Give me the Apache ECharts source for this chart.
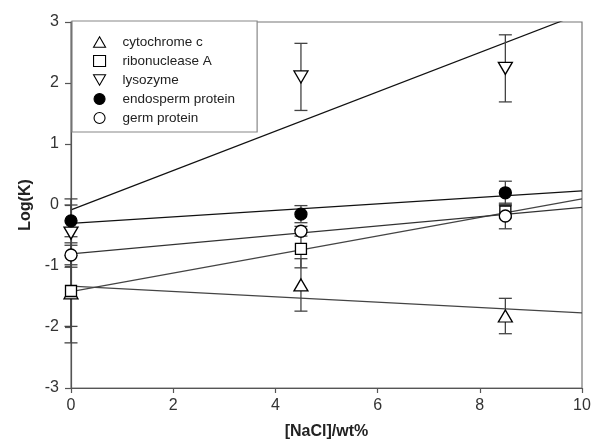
<!DOCTYPE html>
<html>
<head>
<meta charset="utf-8">
<script src="https://cdn.jsdelivr.net/npm/echarts@6/dist/echarts.min.js"></script>
<style>html,body{margin:0;padding:0;background:#fff}#c{width:594px;height:448px}</style>
</head>
<body>
<div id="c"></div>
<script>
const xValues = [0, 4.5, 8.5];
const seriesNames = ['cytochrome c', 'ribonuclease A', 'lysozyme', 'endosperm protein', 'germ protein'];
const cytochromeY = [-1.44, -1.31, -1.82];
const cytochromeErr = [0.82, 0.43, 0.29];
const ribonucleaseY = [-1.41, -0.72, -0.11];
const ribonucleaseErr = [0.58, 0.31, 0.10];
const lysozymeY = [-0.46, 2.10, 2.24];
const lysozymeErr = [0.56, 0.55, 0.55];
const endospermY = [-0.26, -0.15, 0.20];
const endospermErr = [0.26, 0.14, 0.19];
const germY = [-0.82, -0.43, -0.18];
const germErr = [0.16, 0.08, 0.21];
const fitX = [0, 10];
const cytochromeFit = [-1.33, -1.77];
const ribonucleaseFit = [-1.42, 0.10];
const lysozymeFit = [-0.08, 3.145];
const endospermFit = [-0.30, 0.23];
const germFit = [-0.80, -0.04];
const xTicks = [0, 2, 4, 6, 8, 10];
const yTicks = [-3, -2, -1, 0, 1, 2, 3];

const ys = [cytochromeY, ribonucleaseY, lysozymeY, endospermY, germY];
const errs = [cytochromeErr, ribonucleaseErr, lysozymeErr, endospermErr, germErr];
const fits = [cytochromeFit, ribonucleaseFit, lysozymeFit, endospermFit, germFit];
const symbols = [
  'path://M5,0 L10,8.66 L0,8.66 Z',
  'rect',
  'path://M0,0 L10,0 L5,8.66 Z',
  'circle',
  'circle'
];
const sizes = [[14, 12], 11, [14, 12], 12, 12];
const fills = ['#fff', '#fff', '#fff', '#000', '#fff'];
const fitColors = ['#444', '#444', '#111', '#111', '#333'];

const chart = echarts.init(document.getElementById('c'), null, {renderer: 'canvas'});
const series = [];
fits.forEach((f, i) => {
  series.push({
    type: 'line', name: 'fit' + i, data: fitX.map((x, k) => [x, f[k]]),
    showSymbol: false, symbol: 'none', clip: true, silent: true,
    lineStyle: {color: fitColors[i], width: 1.2}, z: 2
  });
});
errs.forEach((e, i) => {
  series.push({
    type: 'custom', name: 'err' + i, clip: false, silent: true, z: 3,
    data: xValues.map((x, k) => [x, ys[i][k] - e[k], ys[i][k] + e[k]]),
    renderItem: function (params, api) {
      const lo = api.coord([api.value(0), api.value(1)]);
      const hi = api.coord([api.value(0), api.value(2)]);
      const hw = 6.5;
      const st = {stroke: '#444', lineWidth: 1.3};
      return {type: 'group', children: [
        {type: 'line', shape: {x1: lo[0], y1: lo[1], x2: hi[0], y2: hi[1]}, style: st},
        {type: 'line', shape: {x1: lo[0] - hw, y1: lo[1], x2: lo[0] + hw, y2: lo[1]}, style: st},
        {type: 'line', shape: {x1: hi[0] - hw, y1: hi[1], x2: hi[0] + hw, y2: hi[1]}, style: st}
      ]};
    }
  });
});
seriesNames.forEach((n, i) => {
  series.push({
    type: 'scatter', name: n, clip: false, z: 5,
    data: xValues.map((x, k) => [x, ys[i][k]]),
    symbol: symbols[i], symbolSize: sizes[i],
    itemStyle: {color: fills[i], borderColor: '#000', borderWidth: 1.3, opacity: 1}
  });
});

chart.setOption({
  animation: false,
  backgroundColor: '#fff',
  grid: {left: 71, right: 12, top: 22, bottom: 60, show: true, borderColor: '#777', borderWidth: 1.2, backgroundColor: 'transparent'},
  legend: {
    data: seriesNames.map((n, i) => ({name: n, icon: symbols[i]})),
    orient: 'vertical', left: 72, top: 21,
    padding: [14, 22, 7, 21],
    itemGap: 5, itemWidth: 12, itemHeight: 11,
    borderColor: '#888', borderWidth: 1.2, backgroundColor: '#fff',
    itemStyle: {borderWidth: 1.1},
    textStyle: {fontFamily: 'Liberation Sans', fontSize: 13.5, color: '#222', padding: [0, 0, 0, 12]},
    selectedMode: false
  },
  xAxis: {
    type: 'value', min: 0, max: 10, interval: 2,
    name: '[NaCl]/wt%', nameLocation: 'middle', nameGap: 36,
    nameTextStyle: {fontFamily: 'Liberation Sans', fontSize: 16, fontWeight: 'bold', color: '#222'},
    axisLine: {show: true, onZero: false, lineStyle: {color: '#555', width: 1.2}},
    axisTick: {show: true, inside: false, length: 5, lineStyle: {color: '#555', width: 1.2}},
    axisLabel: {fontFamily: 'Liberation Sans', fontSize: 16, color: '#333', margin: 10},
    splitLine: {show: false}
  },
  yAxis: {
    type: 'value', min: -3, max: 3, interval: 1,
    name: 'Log(K)', nameLocation: 'middle', nameGap: 36, nameRotate: 90,
    nameTextStyle: {fontFamily: 'Liberation Sans', fontSize: 16, fontWeight: 'bold', color: '#222'},
    axisLine: {show: true, onZero: false, lineStyle: {color: '#555', width: 1.2}},
    axisTick: {show: true, inside: false, length: 6, lineStyle: {color: '#555', width: 1.2}},
    axisLabel: {fontFamily: 'Liberation Sans', fontSize: 16, color: '#333', margin: 12},
    splitLine: {show: false}
  },
  series: series
});
</script>
</body>
</html>
